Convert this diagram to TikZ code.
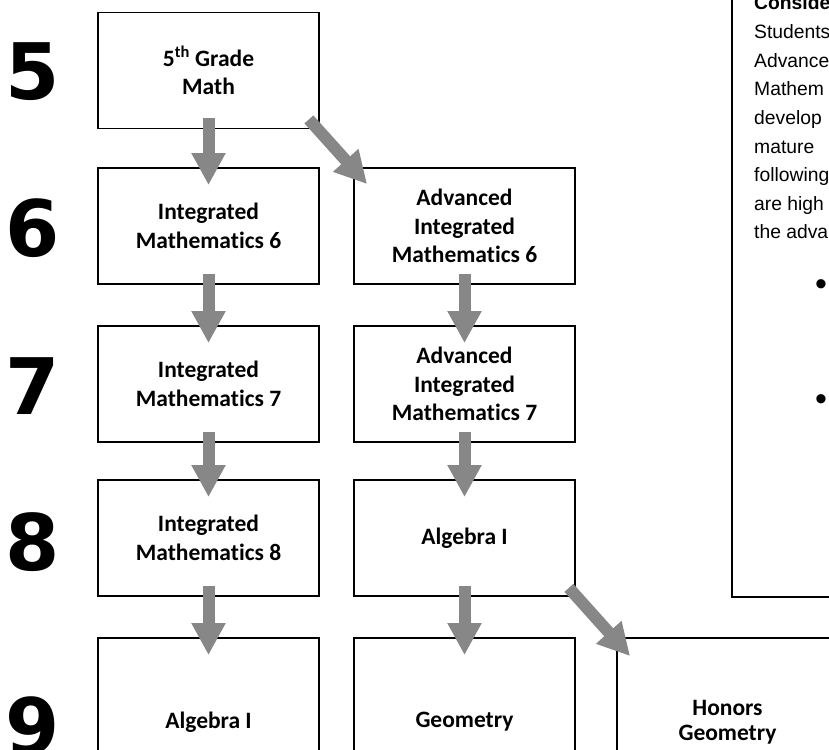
\documentclass[tikz,border=0pt]{standalone}
\usepackage{fontspec}
\setmainfont{Carlito}[Ligatures=NoCommon]
\newfontfamily\arialfont{Liberation Sans}
\newfontfamily\numfont{DejaVu Sans}
\usepackage{tikz}
\usetikzlibrary{arrows.meta}
\definecolor{arrowgray}{RGB}{135,135,135}
\tikzstyle{course} = [draw=black, line width=1.8pt, minimum width=221pt, minimum height=116pt, inner sep=0pt, align=center, font=\bfseries\fontsize{23.5}{28.5}\selectfont]
\tikzstyle{tall} = [minimum height=168pt]
\tikzstyle{grade} = [inner sep=0pt, font=\numfont\bfseries\fontsize{78}{80}\selectfont]
\tikzstyle{bigarrow} = [line width=12pt, draw=arrowgray, -{Triangle[width=32pt,length=32pt]}]
\tikzstyle{note} = [inner sep=0pt, anchor=base west, font=\arialfont\fontsize{19.3}{28.6}\selectfont]
\tikzstyle{dot} = [inner sep=0pt, font=\arialfont\fontsize{34}{34}\selectfont]

\begin{document}
\begin{tikzpicture}[x=1pt, y=-1pt]
    \useasboundingbox (0,0) rectangle (829,749);
    \clip (0,0) rectangle (829,749);
    \foreach \g/\y in {5/72, 6/228, 7/386, 8/542, 9/726}
        \node[grade] (g\g) at (33,\y) {\g};
    \node[course] (m5) at (208.5,70.5) {5\textsuperscript{th} Grade\\Math};
    \node[course] (i6) at (208.5,226) {Integrated\\Mathematics 6};
    \node[course] (i7) at (208.5,384) {Integrated\\Mathematics 7};
    \node[course] (i8) at (208.5,538) {Integrated\\Mathematics 8};
    \node[course, tall] (alg9) at (208.5,722) {Algebra I};
    \node[course] (a6) at (464.5,226) {Advanced\\Integrated\\Mathematics 6};
    \node[course] (a7) at (464.5,384) {Advanced\\Integrated\\Mathematics 7};
    \node[course] (alg8) at (464.5,538) {Algebra I};
    \node[course, tall] (geo9) at (464.5,722) {Geometry};
    \node[course, tall, font=\bfseries\fontsize{23.5}{25}\selectfont] (hon9) at (727.5,722) {Honors\\Geometry};
    % side note
    \draw[line width=1.2pt] (732,-20) -- (732,597) -- (850,597);
    \node[note, font=\arialfont\bfseries\fontsize{19.3}{28.6}\selectfont] (n0) at (754,10) {Conside};
    \foreach \t [count=\i] in {Students, Advance, Mathem, develop, mature, following, are high, the adva}
        \node[note] (n\i) at (754,{10+28.6*\i}) {\t};
    \node[dot] (b1) at (821,288) {•};
    \node[dot] (b2) at (821,403) {•};
    % arrows
    \draw[bigarrow] ([yshift=11pt]m5.south) -- ([yshift=-18pt]i6.north);
    \draw[bigarrow] ([yshift=11pt]i6.south) -- ([yshift=-18pt]i7.north);
    \draw[bigarrow] ([yshift=11pt]i7.south) -- ([yshift=-18pt]i8.north);
    \draw[bigarrow] ([yshift=11pt]i8.south) -- ([yshift=-18pt]alg9.north);
    \draw[bigarrow] ([yshift=11pt]a6.south) -- ([yshift=-18pt]a7.north);
    \draw[bigarrow] ([yshift=11pt]a7.south) -- ([yshift=-18pt]alg8.north);
    \draw[bigarrow] ([yshift=11pt]alg8.south) -- ([yshift=-18pt]geo9.north);
    \draw[bigarrow] ([xshift=-11pt,yshift=10pt]m5.south east) -- ([xshift=14pt,yshift=-17pt]a6.north west);
    \draw[bigarrow] ([xshift=-7pt,yshift=9pt]alg8.south east) -- ([xshift=14pt,yshift=-19pt]hon9.north west);
\end{tikzpicture}
\end{document}
